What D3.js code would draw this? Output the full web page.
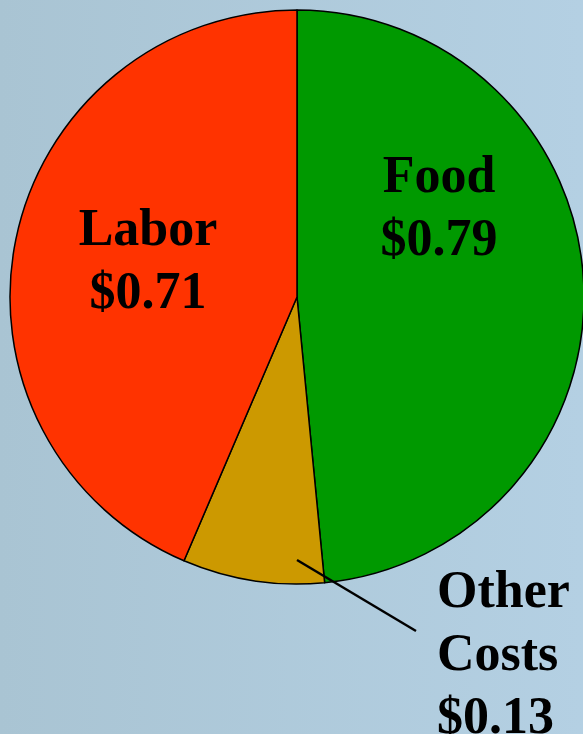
<!DOCTYPE html>
<html>
<head>
<meta charset="utf-8">
<script src="https://cdn.jsdelivr.net/npm/d3@7"></script>
<style>
  html, body { margin: 0; padding: 0; overflow: hidden; }
  svg { display: block; }
  .lbl { font-family: "Liberation Serif", "Times New Roman", serif; font-weight: bold; font-size: 52px; fill: #000; }
</style>
</head>
<body>
<div id="chart"></div>
<script>
// slices in clockwise order, starting at 12 o'clock
const categories = ['Food', 'Other Costs', 'Labor'];
const values = [0.79, 0.13, 0.71];
const colors = ['#009900', '#CC9900', '#FF3300'];
const labelLines = [['Food', '$0.79'], ['Other', 'Costs', '$0.13'], ['Labor', '$0.71']];

const width = 583;
const height = 734;
const cx = 297, cy = 297, radius = 287;

const svg = d3.select('#chart')
    .append('svg')
    .attr('width', width)
    .attr('height', height);

const grad = svg.append('defs').append('linearGradient')
    .attr('id', 'bg')
    .attr('x1', '0%').attr('y1', '0%')
    .attr('x2', '100%').attr('y2', '0%');
grad.append('stop').attr('offset', '0%').attr('stop-color', '#a9c4d3');
grad.append('stop').attr('offset', '100%').attr('stop-color', '#b4d0e3');

svg.append('rect')
    .attr('width', width)
    .attr('height', height)
    .attr('fill', 'url(#bg)');

const pie = d3.pie().sort(null).value(d => d.value);
const arcs = pie(categories.map((c, i) => ({ name: c, value: values[i], color: colors[i], lines: labelLines[i] })));

const arc = d3.arc().innerRadius(0).outerRadius(radius);

const g = svg.append('g').attr('transform', `translate(${cx},${cy})`);

g.selectAll('path')
    .data(arcs)
    .join('path')
    .attr('d', arc)
    .attr('fill', d => d.data.color)
    .attr('stroke', '#000')
    .attr('stroke-width', 1.5)
    .attr('stroke-linejoin', 'round');

// leader line for the small slice, starting just inside its outer edge
const start = d3.pointRadial(Math.PI, radius - 24);
g.append('line')
    .attr('x1', start[0])
    .attr('y1', start[1])
    .attr('x2', 416 - cx)
    .attr('y2', 631 - cy)
    .attr('stroke', '#000')
    .attr('stroke-width', 2.5);

// label placement (layout only)
const labelPos = [
    { x: 439, y: 192, anchor: 'middle' },
    { x: 437, y: 607, anchor: 'start' },
    { x: 148, y: 245, anchor: 'middle' }
];
const lineGap = 63;

arcs.forEach((a, i) => {
    const t = svg.append('text')
        .attr('class', 'lbl')
        .attr('text-anchor', labelPos[i].anchor);
    a.data.lines.forEach((line, j) => {
        t.append('tspan')
            .attr('x', labelPos[i].x)
            .attr('y', labelPos[i].y + j * lineGap)
            .text(line);
    });
});
</script>
</body>
</html>
